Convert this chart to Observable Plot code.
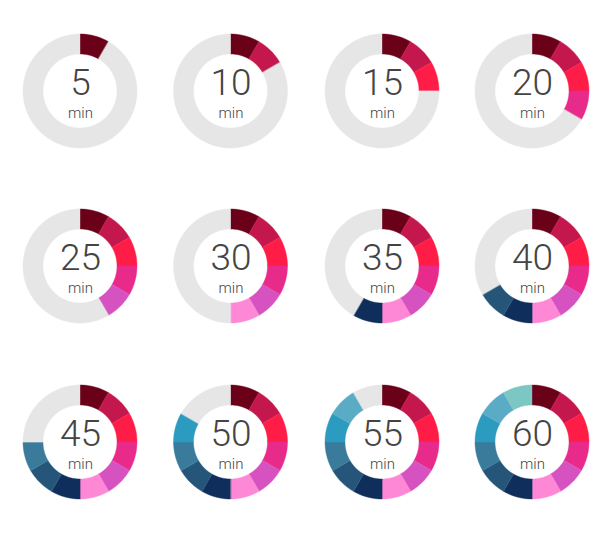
<!DOCTYPE html>
<html>
<head>
<meta charset="utf-8">
<script src="https://cdn.jsdelivr.net/npm/d3@7"></script>
<script src="https://cdn.jsdelivr.net/npm/@observablehq/plot@0.6"></script>
<style>
  html, body { margin: 0; padding: 0; background: #ffffff; }
  #chart { width: 612px; height: 535px; }
</style>
</head>
<body>
<div id="chart"></div>
<script>
// ---- data ----
const minutes = [5, 10, 15, 20, 25, 30, 35, 40, 45, 50, 55, 60];
const segmentMinutes = 5;          // each coloured segment = 5 minutes
const totalMinutes = 60;
const segmentColors = [
  "#6b0019", "#c4174e", "#ff1c46", "#e82a8b", "#d652c0", "#ff88d6",
  "#0f2e5c", "#255679", "#3a7b9c", "#2b9bc0", "#5aabc6", "#7cc6c4"
];
const remainderColor = "#e6e6e6";
const unitLabel = "min";

// ---- layout (pixel units; x/y scales are identity) ----
const W = 612, H = 535;
const colCenters = [80, 230.5, 382, 532];
const rowCenters = [91, 266, 442];
const rOuter = 57, rInner = 37;

const timers = minutes.map((m, i) => ({
  value: m,
  cx: colCenters[i % 4],
  cy: rowCenters[Math.floor(i / 4)]
}));

// ring pieces: filled segments plus the grey remainder
const pieces = [];
timers.forEach((t, i) => {
  const nFilled = t.value / segmentMinutes;
  for (let k = 0; k < nFilled; k++) {
    pieces.push({id: `${i}-${k}`, t, a0: k * segmentMinutes, a1: (k + 1) * segmentMinutes, color: segmentColors[k]});
  }
  if (t.value < totalMinutes) {
    pieces.push({id: `${i}-rest`, t, a0: t.value, a1: totalMinutes, color: remainderColor});
  }
});

// sample arc outlines (angles measured clockwise from 12 o'clock)
const pts = [];
for (const p of pieces) {
  const steps = Math.max(2, Math.ceil((p.a1 - p.a0) * 2));
  for (let s = 0; s <= steps; s++) {
    const mm = p.a0 + (p.a1 - p.a0) * s / steps;
    const ang = mm / totalMinutes * 2 * Math.PI;
    const sx = Math.sin(ang), sy = -Math.cos(ang);
    pts.push({
      id: p.id, color: p.color,
      xo: p.t.cx + rOuter * sx, yo: p.t.cy + rOuter * sy,
      xi: p.t.cx + rInner * sx, yi: p.t.cy + rInner * sy
    });
  }
}

const chart = Plot.plot({
  width: W,
  height: H,
  margin: 0,
  style: {background: "#ffffff"},
  x: {domain: [0, W], range: [0, W], axis: null},
  y: {domain: [0, H], range: [0, H], axis: null},
  color: {type: "identity"},
  marks: [
    Plot.area(pts, {
      x1: "xi", y1: "yi", x2: "xo", y2: "yo",
      z: "id", fill: "color", stroke: "color", strokeWidth: 0.4, curve: "linear"
    }),
    Plot.text(timers, {
      x: "cx", y: "cy", text: d => String(d.value),
      lineAnchor: "bottom", dy: 3, fontSize: 37, fontWeight: 300,
      fontFamily: "Roboto, Liberation Sans, Arial, sans-serif", fill: "#444444"
    }),
    Plot.text(timers, {
      x: "cx", y: "cy", text: () => unitLabel,
      lineAnchor: "bottom", dy: 26, fontSize: 15, fontWeight: 300,
      fontFamily: "Roboto, Liberation Sans, Arial, sans-serif", fill: "#444444"
    })
  ]
});
document.getElementById("chart").append(chart);
</script>
</body>
</html>
